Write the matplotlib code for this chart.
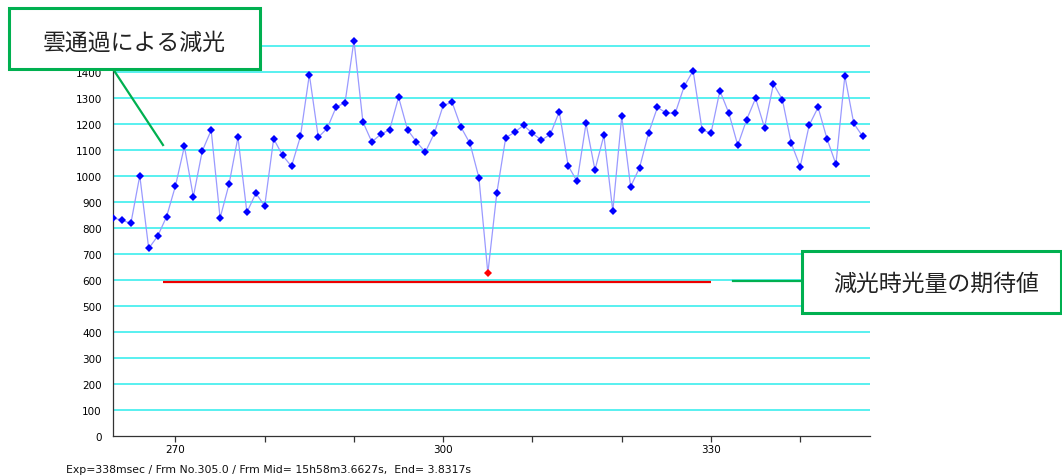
import matplotlib
matplotlib.use("Agg")
import matplotlib.pyplot as plt
from matplotlib.patches import Rectangle
from matplotlib.lines import Line2D

# ---- data ----
frames = list(range(263, 348))
flux = [839, 831, 818, 1002, 722, 769, 844, 963, 1115, 921,
        1097, 1177, 839, 969, 1150, 861, 934, 886, 1144, 1080,
        1038, 1153, 1391, 1150, 1184, 1266, 1283, 1522, 1209, 1132,
        1161, 1179, 1304, 1179, 1132, 1093, 1165, 1273, 1284, 1188,
        1126, 994, 627, 934, 1148, 1169, 1196, 1165, 1139, 1161,
        1248, 1040, 980, 1203, 1024, 1157, 866, 1230, 960, 1033,
        1165, 1265, 1243, 1243, 1346, 1406, 1179, 1165, 1329, 1243,
        1119, 1218, 1300, 1187, 1355, 1295, 1126, 1037, 1196, 1265,
        1144, 1046, 1386, 1203, 1153]
highlight_frame = 305
expected_value = 594
expected_range = [268.6, 330.0]
yticks = list(range(0, 1600, 100))
ytick_labels = [str(v) if v < 1500 else "" for v in yticks]  # 1500 label hidden by callout
xtick_labels = {270: "270", 300: "300", 330: "330"}
xticks = [270, 280, 290, 300, 310, 320, 330, 340]
label_cloud = "雲通過による減光"
label_expected = "減光時光量の期待値"
footer = "Exp=338msec / Frm No.305.0 / Frm Mid= 15h58m3.6627s,  End= 3.8317s"

W, H = 1062, 477
fig = plt.figure(figsize=(W / 100, H / 100), dpi=100)
fig.patch.set_facecolor("white")

def fx(x):
    return x / W

def fy(y):
    return 1 - y / H

ax_l, ax_r, ax_t, ax_b = 113, 870, 30, 437
ax = fig.add_axes([fx(ax_l), fy(ax_b), (ax_r - ax_l) / W, (ax_b - ax_t) / H])
ax.set_facecolor("white")
ax.set_xlim(263, 263 + (ax_r - ax_l) / 8.925)
ax.set_ylim(0, (ax_b - ax_t) / 0.2598)

for v in yticks[1:]:
    ax.axhline(v, color="#3CEEEE", lw=1.2, zorder=1)

ax.plot(frames, flux, color="#9A9AFF", lw=0.9, zorder=3)
hx = [f for f in frames if f != highlight_frame]
hy = [v for f, v in zip(frames, flux) if f != highlight_frame]
ax.plot(hx, hy, linestyle="none", marker="D", markersize=4.3,
        color="#0000FF", markeredgewidth=0, zorder=4)
ax.plot([highlight_frame], [flux[frames.index(highlight_frame)]],
        linestyle="none", marker="D", markersize=4.3, color="#FF0000",
        markeredgewidth=0, zorder=4)
ax.plot(expected_range, [expected_value, expected_value], color="#EE0000",
        lw=1.6, zorder=2, solid_capstyle="butt")

for s in ["top", "right"]:
    ax.spines[s].set_visible(False)
for s in ["left", "bottom"]:
    ax.spines[s].set_color("#333333")
    ax.spines[s].set_linewidth(0.9)

ax.set_yticks(yticks)
ax.set_yticklabels(ytick_labels, fontsize=7.5, family="DejaVu Sans")
ax.tick_params(axis="y", length=0, pad=8)
ax.set_xticks(xticks)
ax.set_xticklabels([xtick_labels.get(t, "") for t in xticks], fontsize=7.5,
                   family="DejaVu Sans")
ax.tick_params(axis="x", length=4, width=0.9, color="#333333", pad=2, direction="out")

green = "#00B050"
cjk = ["Noto Sans CJK JP", "DejaVu Sans"]

# callout 1
fig.add_artist(Line2D([fx(113), fx(163)], [fy(70), fy(146)], color=green,
                      lw=1.6, zorder=9))
fig.add_artist(Rectangle((fx(9), fy(70)), (260 - 9) / W, (70 - 9) / H,
                         facecolor="white", edgecolor=green, lw=2.2, zorder=10))
fig.text(fx(134), fy(43), label_cloud, ha="center", va="center", fontsize=16.5,
         family=cjk, color="#222222", zorder=11)

# callout 2
fig.add_artist(Line2D([fx(733), fx(801)], [fy(282), fy(282)], color=green,
                      lw=1.6, zorder=9))
fig.add_artist(Rectangle((fx(802), fy(314)), (1061 - 802) / W, (314 - 252) / H,
                         facecolor="white", edgecolor=green, lw=2.2, zorder=10))
fig.text(fx(936), fy(284), label_expected, ha="center", va="center", fontsize=16.5,
         family=cjk, color="#222222", zorder=11)

fig.text(fx(66), fy(470), footer, ha="left", va="center", fontsize=7.8,
         family="DejaVu Sans", color="#111111")

fig.savefig("out.png", dpi=100)
